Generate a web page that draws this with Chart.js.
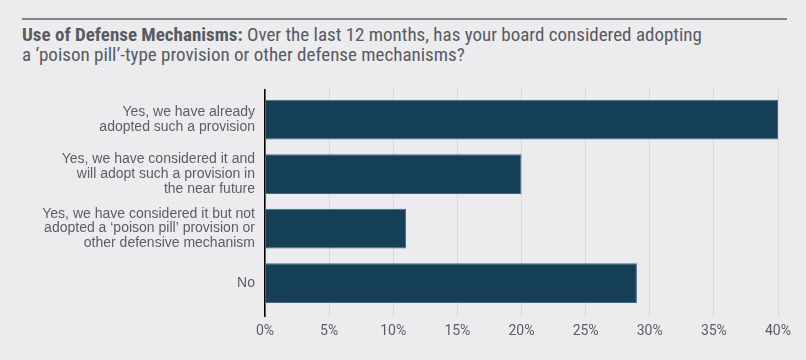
<!DOCTYPE html>
<html>
<head>
<meta charset="utf-8">
<script src="https://cdn.jsdelivr.net/npm/chart.js@4/dist/chart.umd.min.js"></script>
<style>
  html, body { margin: 0; padding: 0; background: #ececee; }
  #wrap { position: relative; width: 806px; height: 360px; overflow: hidden; }
  #rule { position: absolute; left: 22px; top: 18px; width: 765px; height: 2px; background: #7f8287; }
  #title {
    position: absolute; left: 22px; top: 25px; width: 780px;
    font-family: "Liberation Sans Narrow", "Roboto Condensed", sans-serif;
    font-size: 19px; line-height: 19.5px; color: #575b61;
  }
  #title b { font-weight: bold; }
  #chart { position: absolute; left: 0; top: 0; }
</style>
</head>
<body>
<div id="wrap">
  <div id="rule"></div>
  <div id="title"><b>Use of Defense Mechanisms:</b> Over the last 12 months, has your board considered adopting<br>a ‘poison pill’-type provision or other defense mechanisms?</div>
  <canvas id="chart" width="806" height="360"></canvas>
</div>
<script>
// Answer categories (multi-line labels as shown)
const answers = [
    ['Yes, we have already', 'adopted such a provision'],
    ['Yes, we have considered it and', 'will adopt such a provision in', 'the near future'],
    ['Yes, we have considered it but not', 'adopted a ‘poison pill’ provision or', 'other defensive mechanism'],
    ['No']
];
// Share of respondents, %
const shares = [40, 20, 11, 29];
// X axis ticks
const xTicks = [0, 5, 10, 15, 20, 25, 30, 35, 40];

const textColor = '#5a5e63';
const barColor = '#143f57';

const ctx = document.getElementById('chart').getContext('2d');

const chart = new Chart(ctx, {
    type: 'bar',
    data: {
        datasets: [{
            data: shares.map((v, i) => ({ x: v, y: i })),
            backgroundColor: barColor,
            borderColor: '#4a687c',
            borderWidth: 1,
            barPercentage: 0.73,
            categoryPercentage: 1
        }]
    },
    options: {
        indexAxis: 'y',
        responsive: false,
        animation: false,
        layout: { padding: { top: 89, right: 28, bottom: 0, left: 0 } },
        plugins: {
            legend: { display: false },
            tooltip: { enabled: false }
        },
        scales: {
            y: {
                type: 'linear',
                reverse: true,
                offset: false,
                min: -0.56,
                max: 3.51,
                afterFit: (scale) => { scale.width = 265; },
                afterBuildTicks: (scale) => {
                    scale.ticks = answers.map((_, i) => ({ value: i }));
                },
                grid: { display: false, drawTicks: false },
                border: { display: false },
                ticks: {
                    padding: 10,
                    color: textColor,
                    font: { family: 'Liberation Sans', size: 14, lineHeight: 1.06 },
                    callback: (v) => answers[v]
                }
            },
            x: {
                min: 0,
                max: 40,
                afterFit: (scale) => { scale.height = 49; },
                afterBuildTicks: (scale) => {
                    scale.ticks = xTicks.map(v => ({ value: v }));
                },
                border: { display: false },
                grid: {
                    color: (c) => c.tick && c.tick.value === 0 ? '#000000' : '#dadadc',
                    lineWidth: (c) => c.tick && c.tick.value === 0 ? 1.6 : 1,
                    tickLength: 6
                },
                ticks: {
                    padding: 6,
                    color: textColor,
                    font: { family: 'Roboto', size: 14 },
                    callback: (v) => v + '%'
                }
            }
        }
    }
});
</script>
</body>
</html>
